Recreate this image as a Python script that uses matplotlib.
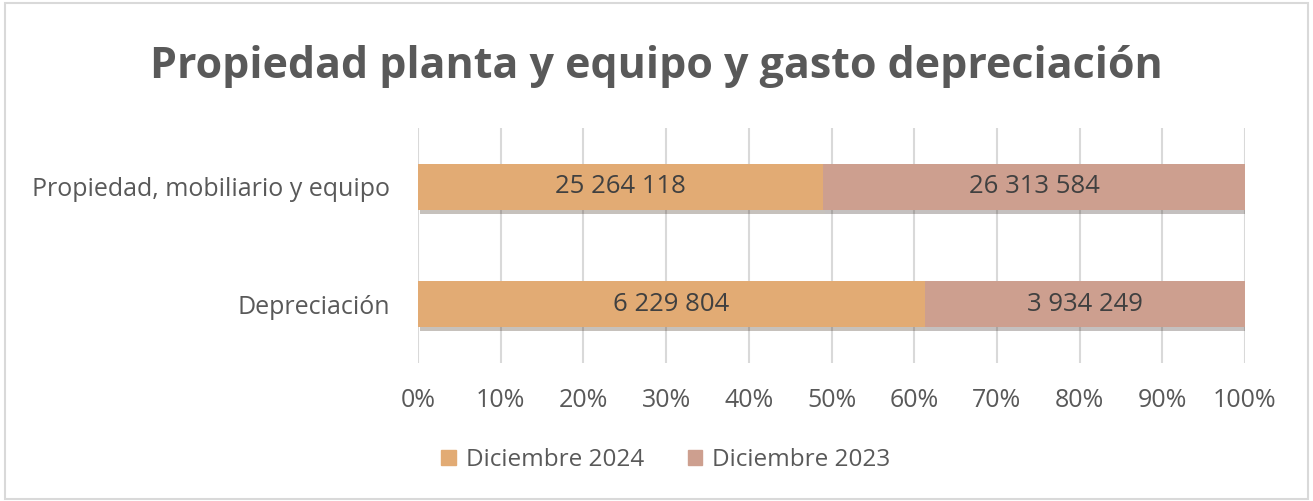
import matplotlib.pyplot as plt
import matplotlib.patheffects as pe
from matplotlib.ticker import PercentFormatter
from matplotlib.patches import Rectangle, Patch
import numpy as np

plt.rcParams['font.family'] = ['Open Sans', 'DejaVu Sans']

categories = ['Depreciación', 'Propiedad, mobiliario y equipo']
series_names = ['Diciembre 2024', 'Diciembre 2023']
dic_2024 = [6229804, 25264118]
dic_2023 = [3934249, 26313584]
colors = ['#E2AB74', '#CD9F8F']

vals = np.array([dic_2024, dic_2023], dtype=float)
totals = vals.sum(axis=0)
shares = vals / totals

fig = plt.figure(figsize=(13.13, 5.01), dpi=100)
ax = fig.add_axes([0.3184, 0.2754, 0.6298, 0.4691])

# frame around the whole chart
fig.patches.append(Rectangle((0.004, 0.004), 0.992, 0.99, transform=fig.transFigure,
                             fill=False, edgecolor='#D9D9D9', linewidth=1.5))

y = np.arange(len(categories))
left = np.zeros(len(categories))
shadow = [pe.SimplePatchShadow(offset=(1.5, -3), alpha=0.3), pe.Normal()]
for i, name in enumerate(series_names):
    bars = ax.barh(y, shares[i], left=left, height=0.39, color=colors[i], zorder=3)
    for j, b in enumerate(bars):
        b.set_path_effects(shadow)
        ax.text(left[j] + shares[i][j] / 2, y[j], f"{int(vals[i][j]):,}".replace(",", " "),
                ha='center', va='center', fontsize=18.5, color='#404040', zorder=4)
    left += shares[i]

ax.set_xlim(0, 1)
ax.set_ylim(-0.5, 1.5)
ax.set_xticks(np.linspace(0, 1, 11))
ax.xaxis.set_major_formatter(PercentFormatter(1.0, decimals=0))
ax.set_yticks(y)
ax.set_yticklabels(categories)
ax.tick_params(axis='both', length=0, labelsize=18, labelcolor='#595959')
ax.tick_params(axis='x', pad=18)
ax.tick_params(axis='y', pad=20)
ax.grid(axis='x', color='#D9D9D9', linewidth=1.5, zorder=0)
for s in ax.spines.values():
    s.set_visible(False)

fig.suptitle('Propiedad planta y equipo y gasto depreciación', x=0.5, y=0.91,
             fontsize=31, fontweight='bold', color='#595959')

handles = [Patch(color=c, label=n) for c, n in zip(colors, series_names)]
fig.legend(handles=handles, loc='center', bbox_to_anchor=(0.507, 0.082), ncol=2, frameon=False,
           fontsize=17.5, labelcolor='#595959', handlelength=0.6, handleheight=0.6,
           handletextpad=0.4, columnspacing=1.8)

fig.savefig('out.png', dpi=100)
